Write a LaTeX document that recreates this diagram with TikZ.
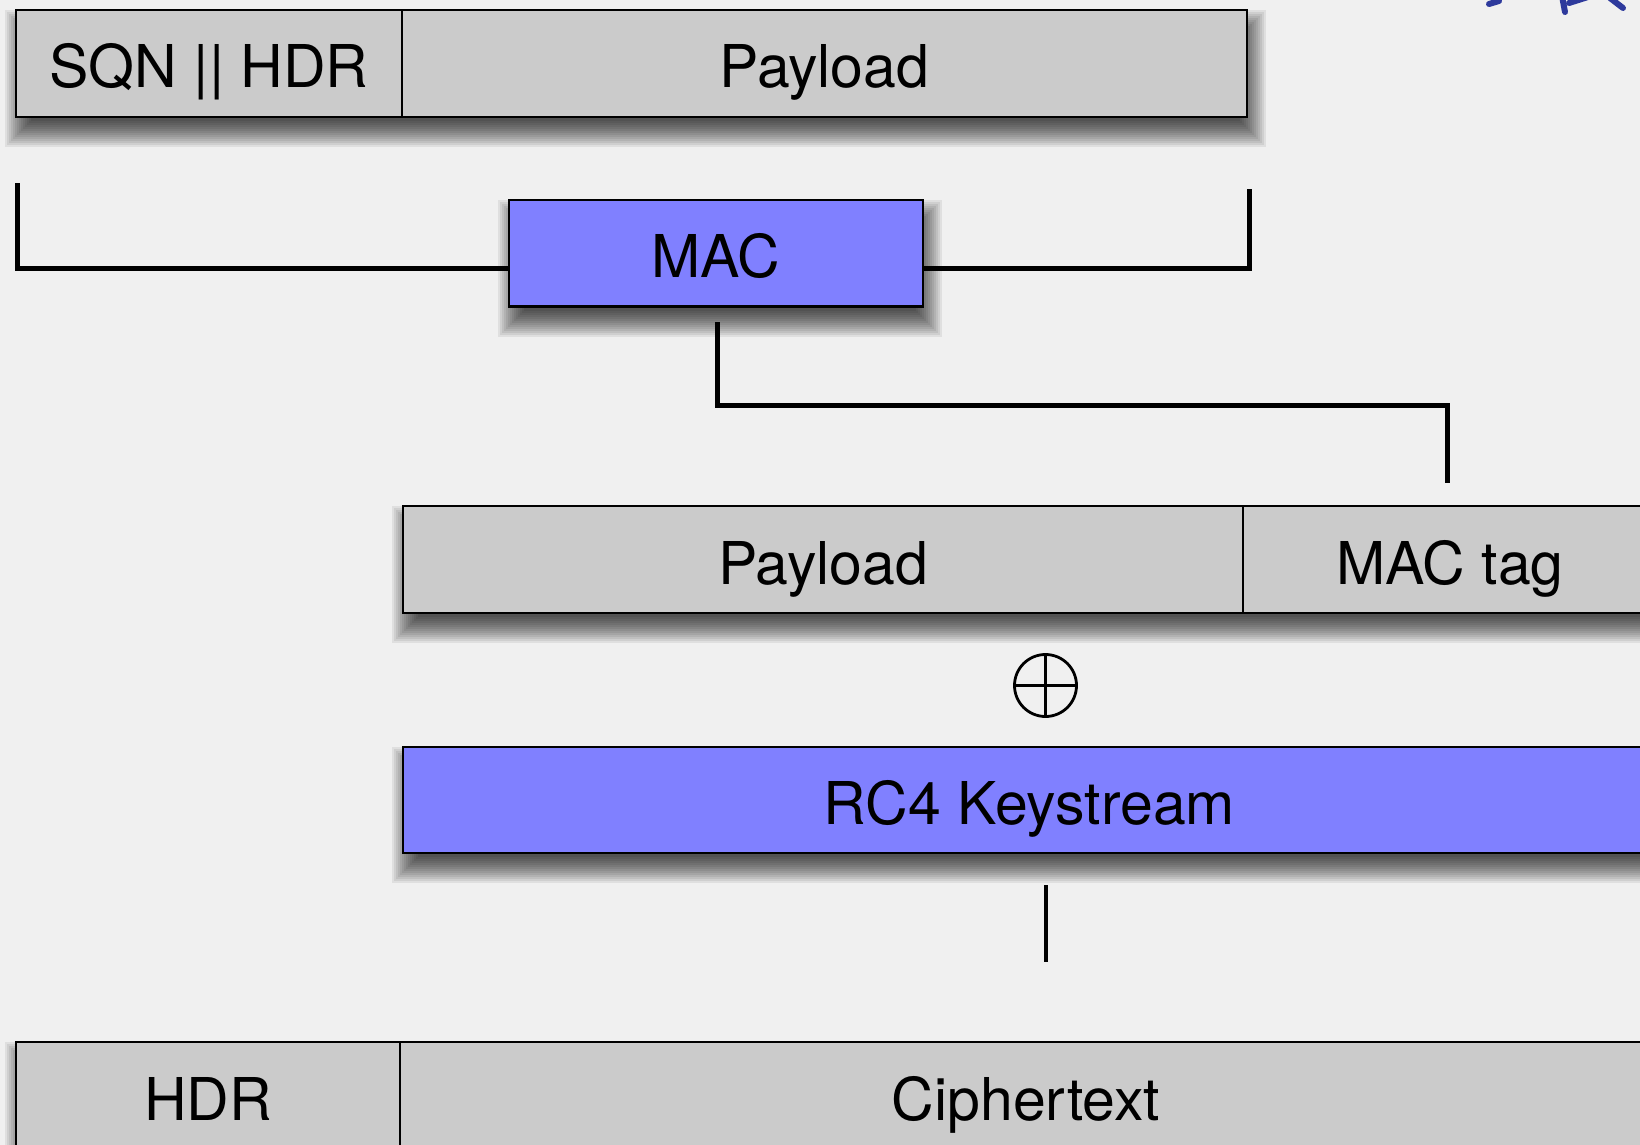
\documentclass[tikz,border=0pt]{standalone}
\usepackage{fontspec}
\setmainfont{TeX Gyre Heros}
\usetikzlibrary{calc}

\definecolor{bggray}{HTML}{F0F0F0}
\definecolor{cellgray}{HTML}{CBCBCB}
\definecolor{macblue}{HTML}{8080FF}
\definecolor{inkblue}{HTML}{2E3A9C}

\pgfdeclarelayer{canvas}
\pgfdeclarelayer{shadowlayer}
\pgfsetlayers{canvas,shadowlayer,main}

\tikzset{
  cell/.style={draw=black, line width=1.3pt, fill=cellgray, inner sep=0pt,
    minimum height=53.5pt,
    font=\fontsize{29.5}{29.5}\selectfont, text height=24.5pt, text depth=0pt},
  bluecell/.style={cell, fill=macblue},
  shadowstep/.style={fill=black, opacity=0.07},
  wire/.style={draw=black, line width=2.3pt},
  xorsym/.style={draw=black, circle, line width=1.4pt, minimum size=31pt, inner sep=0pt},
}

% soft shadow under the box spanned by two corners: stacked translucent rectangles
\newcommand\castshadow[2]{%
  \foreach \r in {-12,-10,...,14}{%
    \fill[shadowstep] ($(#1)+(4-\r,15-\r)$) rectangle ($(#2)+(4+\r,15+\r)$);
  }%
}

\begin{document}
\begin{tikzpicture}[x=0.5pt, y=-0.5pt]
  % canvas: 1640 x 1145 units, y grows downwards
  \useasboundingbox (0,0) rectangle (1640,1145);
  \begin{pgfonlayer}{canvas}
    \fill[bggray] (0,0) rectangle (1640,1145);
  \end{pgfonlayer}

  % handwritten mark in the corner
  \begin{scope}[draw=inkblue, line width=3pt, line cap=round]
    \draw (1489,4) -- (1499,1);
    \draw (1565,12) -- (1562,-4);
    \draw (1569,3) -- (1588,-3);
    \draw (1610,-2) -- (1623,8);
  \end{scope}

  % plaintext record
  \node[cell, minimum width=193pt] (sqn) at (209,63.5) {SQN || HDR};
  \node[cell, minimum width=422.5pt] (pay1) at (824.5,63.5) {Payload};

  % MAC computation
  \node[bluecell, minimum width=207pt, minimum height=53.25pt] (mac) at (716,253.25) {MAC};

  % payload with tag
  \node[cell, minimum width=420pt] (pay2) at (823,559.5) {Payload};
  \node[cell, minimum width=207pt] (tag) at (1450,559.5) {MAC tag};

  % xor
  \node[xorsym] (xor) at (1045.5,685.5) {};
  \draw[line width=1.4pt] (xor.north) -- (xor.south);
  \draw[line width=1.4pt] (xor.west) -- (xor.east);

  % keystream
  \node[bluecell, minimum width=626.5pt, minimum height=53pt] (rc4) at (1029.5,800) {RC4 Keystream};

  % ciphertext record
  \node[cell, minimum width=192pt] (hdr) at (208,1095.5) {HDR};
  \node[cell, minimum width=626pt] (ct) at (1026,1095.5) {Ciphertext};

  % drop shadows of the rows
  \begin{pgfonlayer}{shadowlayer}
    \castshadow{sqn.north west}{pay1.south east}
    \castshadow{mac.north west}{mac.south east}
    \castshadow{pay2.north west}{tag.south east}
    \castshadow{rc4.north west}{rc4.south east}
    \castshadow{hdr.north west}{ct.south east}
  \end{pgfonlayer}

  % connectors
  \coordinate (lb) at ($(sqn.south west)+(3,65)$);
  \coordinate (rb) at ($(pay1.south east)+(1,71)$);
  \draw[wire] (lb) |- ([yshift=-7.5pt]mac.west);
  \draw[wire] (rb) |- ([yshift=-7.5pt]mac.east);
  \draw[wire] ($(mac.south)+(1.5,14.5)$) -- ++(0,83) -| ($(tag.north)+(-2.5,-22)$);
  \draw[wire] ($(rc4.south)+(16.5,31)$) -- ($(ct.north)+(20,-79)$);
\end{tikzpicture}
\end{document}
